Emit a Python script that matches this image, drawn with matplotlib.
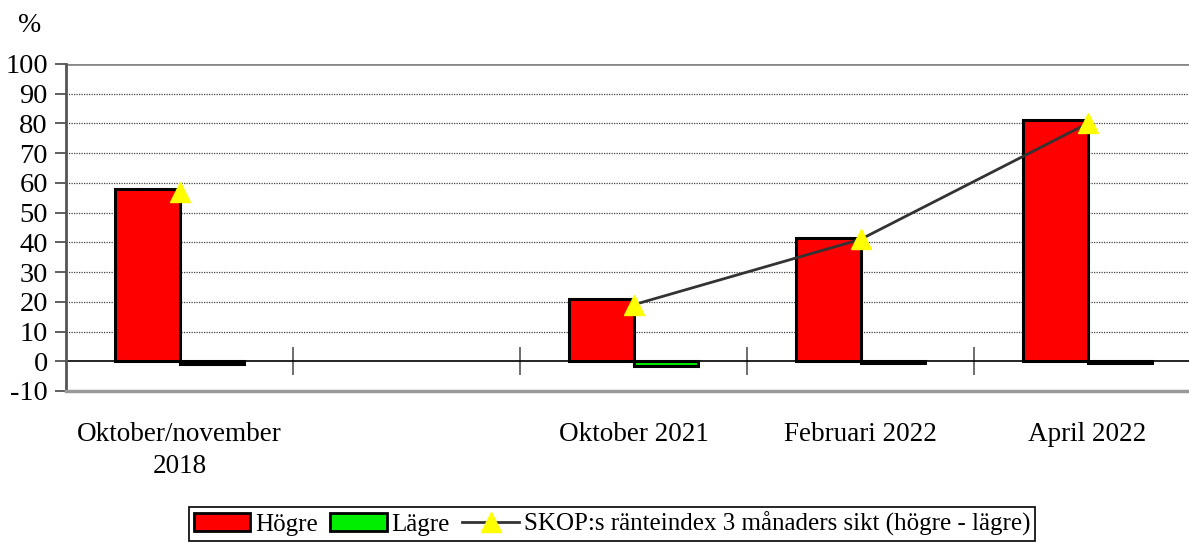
import matplotlib
matplotlib.use("Agg")
import matplotlib.pyplot as plt
import numpy as np
from matplotlib.patches import Patch
from matplotlib.lines import Line2D

plt.rcParams['font.family'] = ['Liberation Serif', 'DejaVu Serif']

categories = ["Oktober/november\n2018", "", "Oktober 2021", "Februari 2022", "April 2022"]
hogre = [58, np.nan, 21, 41.5, 81]
lagre = [-1, np.nan, -1.5, -0.5, -0.5]
index = [57, np.nan, 19, 41, 80]
yticks = list(range(-10, 101, 10))

fig = plt.figure(figsize=(11.89, 5.43), dpi=100)
ax = fig.add_axes([66/1189, (543-391)/543, (1201-66)/1189, (391-64)/543])

x = np.arange(len(categories))
w = 0.286
ax.bar(x - w/2, hogre, w, color='#ff0000', edgecolor='black', linewidth=2.2, zorder=3)
ax.bar(x + w/2, lagre, w, color='#00ee00', edgecolor='black', linewidth=2.2, zorder=3)
ax.plot(x, index, color='#333333', linewidth=2, marker='^', markersize=14,
        markerfacecolor='#ffff00', markeredgecolor='#ffff00', zorder=4)

ax.set_xlim(-0.5, len(categories) - 0.5)
ax.set_ylim(-10, 100)
ax.set_yticks(yticks)
ax.set_yticklabels([str(t) for t in yticks], fontsize=20.5)
ax.tick_params(axis='y', direction='out', length=8, width=1.2, color='#444444', pad=5)

for t in yticks:
    if t == 100:
        ax.axhline(t, color='#888888', linewidth=2, zorder=1)
    elif t not in (0, -10):
        ax.axhline(t, color='#444444', linewidth=0.9, linestyle=(0, (1, 1)), zorder=1)

ax.set_xticks(x)
ax.set_xticklabels(categories, fontsize=19.5, linespacing=1.4)
ax.tick_params(axis='x', length=0, pad=22)

for s in ['top', 'right']:
    ax.spines[s].set_visible(False)
ax.spines['left'].set_color('#555555')
ax.spines['left'].set_linewidth(2)
ax.spines['bottom'].set_color('#999999')
ax.spines['bottom'].set_linewidth(2.5)

# zero line with category boundary ticks
sec = ax.secondary_xaxis(10/110)
sec.spines['bottom'].set_color('black')
sec.spines['bottom'].set_linewidth(1.2)
sec.set_xticks(np.arange(0.5, len(categories) - 0.5, 1.0))
sec.set_xticklabels([])
sec.tick_params(axis='x', direction='inout', length=20, width=1.2, color='#555555')

fig.text(18/1189, 1 - 25/543, "%", fontsize=20, ha='left', va='center')

handles = [Patch(facecolor='#ff0000', edgecolor='black', linewidth=2),
           Patch(facecolor='#00ee00', edgecolor='black', linewidth=2),
           Line2D([0], [0], color='#333333', linewidth=2, marker='^', markersize=14,
                  markerfacecolor='#ffff00', markeredgecolor='#ffff00')]
labels = ["Högre", "Lägre", "SKOP:s ränteindex 3 månaders sikt (högre - lägre)"]
leg = fig.legend(handles, labels, loc='lower center', bbox_to_anchor=(612/1189, 2/543),
                 ncol=3, fontsize=18, frameon=True, fancybox=False, framealpha=1,
                 edgecolor='black', handlelength=2.25, handleheight=0.75, handletextpad=0.2,
                 columnspacing=0.5, borderpad=0.2, borderaxespad=0)
leg.get_frame().set_linewidth(1.2)

fig.savefig("out.png", dpi=100)
